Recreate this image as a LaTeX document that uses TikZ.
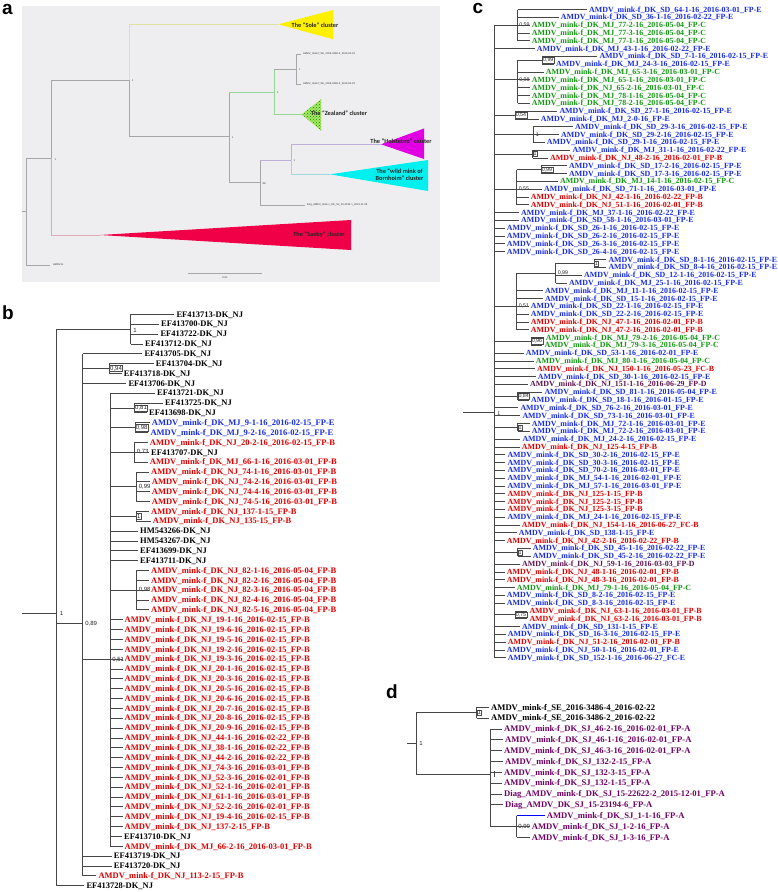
\documentclass[tikz,border=0pt]{standalone}
\usepackage{fontspec}
\setmainfont{Liberation Serif}
\newfontfamily\lsans{Liberation Sans}
\newfontfamily\carl{Carlito}
\usetikzlibrary{patterns}
\definecolor{cb}{RGB}{25,45,225}
\definecolor{cr}{RGB}{225,0,0}
\definecolor{cg}{RGB}{20,150,20}
\definecolor{cp}{RGB}{110,0,100}
\definecolor{cd}{RGB}{95,20,80}
\definecolor{bga}{RGB}{238,238,240}
\definecolor{saeby}{RGB}{240,0,70}
\definecolor{sole}{RGB}{255,240,0}
\definecolor{zeal}{RGB}{170,232,100}
\definecolor{holst}{RGB}{225,0,225}
\definecolor{wild}{RGB}{0,240,240}
\definecolor{lnpink}{RGB}{225,170,185}
\definecolor{lnyel}{RGB}{225,225,160}
\definecolor{lngrn}{RGB}{150,215,150}
\definecolor{lnlav}{RGB}{190,175,220}
\definecolor{lncy}{RGB}{160,215,220}
\newcommand\byy[1]{(314.3+(#1-1)*9.85)}
\newcommand\cyy[1]{(9.5+(#1-1)*7.81)}
\newcommand\dyy[1]{(707.3+(#1-1)*10.83)}
\newcommand\Lb[5]{\node[lb,text=#4] (b#1) at (#3,{\byy{#1}}) {\detokenize{#5}};
  \draw[br] (#2,{\byy{#1}}) -- ([xshift=-2pt]b#1.west);}
\newcommand\Lc[5]{\node[lc,text=#4] (c#1) at (#3,{\cyy{#1}}) {\detokenize{#5}};
  \draw[br] (#2,{\cyy{#1}}) -- ([xshift=-2pt]c#1.west);}
\newcommand\Ld[5]{\node[ld,text=#4] (d#1) at (#3,{\dyy{#1}}) {\detokenize{#5}};
  \draw[br] (#2,{\dyy{#1}}) -- ([xshift=-2pt]d#1.west);}
\tikzset{
  br/.style={draw=black!72, line width=0.65pt},
  lb/.style={anchor=west, inner sep=0pt, font=\bfseries\fontsize{8.5}{9}\selectfont, text height=5.6pt, text depth=0pt},
  lc/.style={anchor=west, inner sep=0pt, font=\bfseries\fontsize{7.9}{8}\selectfont, text height=5.2pt, text depth=0pt},
  ld/.style={anchor=west, inner sep=0pt, font=\bfseries\fontsize{8.6}{9}\selectfont, text height=5.7pt, text depth=0pt},
  supb/.style={anchor=west, inner sep=0.7pt, font=\lsans\fontsize{6}{6}\selectfont, text=black!85},
  supc/.style={anchor=west, inner sep=0.6pt, font=\lsans\fontsize{5.3}{6}\selectfont, text=black!85},
  boxb/.style={supb, draw=black!70, line width=0.4pt},
  boxc/.style={supc, draw=black!70, line width=0.4pt},
  ta/.style={draw=gray!70, line width=0.55pt},
  clab/.style={font=\carl\bfseries\fontsize{6.3}{7}\selectfont, text=black!85, inner sep=0pt},
  atiny/.style={font=\lsans\fontsize{2.6}{3}\selectfont, anchor=west, inner sep=0pt, text=black!80},
  plet/.style={font=\lsans\bfseries\fontsize{19}{20}\selectfont, inner sep=0pt},
}
\begin{document}
\begin{tikzpicture}[x=1pt,y=-1pt]
\useasboundingbox (0,0) rectangle (778,892);
\fill[white] (0,0) rectangle (778,892);
%%%%%%%%%%%%%%%% panel a
\node[plet] (la) at (7.5,9.5) {a};
\fill[bga] (21.7,6) rectangle (440,282);
\draw[ta] (22,211) -- (26.7,211);
\draw[ta] (26.7,158.3) -- (26.7,265) -- (50,265);
\node[atiny] (ag) at (53,265) {AMDV-G};
\draw[ta] (26.7,158.3) -- (51.7,158.3);
\draw[ta] (51.7,80) -- (51.7,158.3);
\draw[draw=lnpink, line width=0.55pt] (51.7,158.3) -- (51.7,235) -- (100,235);
\node[atiny] at (54.5,160) {1};
\fill[saeby] (100,235) -- (351,220) -- (351,250) -- cycle;
\node[clab] (asaeby) at (319,235) {The “Saeby” cluster};
\draw[ta] (51.7,80) -- (129,80);
\node[atiny] at (132,81) {1};
\draw[draw=lnyel, line width=0.55pt] (129,80) -- (129,24.3) -- (278.3,24.3);
\fill[sole] (278.3,24.3) -- (333.3,10) -- (333.3,39.3) -- cycle;
\node[clab] (asole) at (315,24.7) {The “Sole” cluster};
\draw[ta] (129,80) -- (129,136.7) -- (229.3,136.7);
\node[atiny] at (232,137.5) {1};
\draw[ta] (229.3,92.3) -- (229.3,182.3);
\draw[draw=lngrn, line width=0.55pt] (229.3,92.3) -- (274.3,92.3);
\draw[draw=lngrn, line width=0.55pt] (274.3,69.3) -- (274.3,114.3) -- (301.7,114.3);
\node[atiny] at (277,93) {1};
\draw[ta] (274.3,69.3) -- (296,69.3);
\draw[ta] (296,54.3) -- (296,84.3);
\node[atiny] at (299,70) {1};
\draw[ta] (296,54.3) -- (301.3,54.3);
\draw[ta] (296,84.3) -- (301.3,84.3);
\node[atiny] (ase4) at (303,54.3) {AMDV\_mink-f\_SE\_2016-3486-4\_2016-02-22};
\node[atiny] (ase2) at (303,84.3) {AMDV\_mink-f\_SE\_2016-3486-2\_2016-02-22};
\fill[zeal] (301.7,114.3) -- (321,99.3) -- (321,130.7) -- cycle;
\fill[pattern=crosshatch dots, pattern color=green!55!black] (301.7,114.3) -- (321,99.3) -- (321,130.7) -- cycle;
\node[clab] (azeal) at (339,112.7) {The “Zealand” cluster};
\draw[ta] (229.3,182.3) -- (260,182.3);
\draw[ta] (260,160) -- (260,205) -- (305,205);
\node[atiny] at (262.5,184) {98};
\node[atiny] (aeng) at (307,205) {Eng\_AMDV\_mink-c\_DK\_SJ\_15-4150-1\_2015-11-28};
\draw[draw=lnlav, line width=0.55pt] (260,160) -- (291,160);
\draw[draw=lnlav, line width=0.55pt] (291,144.3) -- (291,160);
\draw[draw=lncy, line width=0.55pt] (291,160) -- (291,174.3) -- (330,174.3);
\draw[draw=lnlav, line width=0.55pt] (291,144.3) -- (381,144.3);
\node[atiny] at (293.5,161) {1};
\fill[holst] (381,144.3) -- (424,128.5) -- (424,159) -- cycle;
\node[clab] (ahol) at (401,141.5) {The “Holstebro” cluster};
\fill[wild] (330,174.3) -- (428,160) -- (428,191) -- cycle;
\node[clab, align=center] (awild) at (399.5,174.5) {The “wild mink of\\Bornholm” cluster};
\draw[ta] (188,273.3) -- (262,273.3);
\node[atiny, anchor=center] at (225,277.5) {0.01};
%%%%%%%%%%%%%%%% panel b
\node[plet] (lbb) at (8,313) {b};
\draw[br] (21.7,613.3) -- (56,613.3);
\draw[br] (56,{\byy{2.5}}) -- (56,{\byy{59}});
\node[supb] at (59,613.3) {1};
\draw[br] (56,{\byy{2.5}}) -- (130.7,{\byy{2.5}});
\draw[br] (130.7,{\byy{1}}) -- (130.7,{\byy{4}});
\node[supb] at (132.5,{\byy{2.6}}) {1};
\draw[br] (56,623.7) -- (82.7,623.7);
\draw[br] (82.7,{\byy{5}}) -- (82.7,{\byy{58}});
\node[supb] at (84.5,623.7) {0,89};
\draw[br] (82.7,{\byy{6.5}}) -- (109.3,{\byy{6.5}});
\draw[br] (109.3,{\byy{6}}) -- (109.3,{\byy{7}});
\node[boxb] at (109.3,{\byy{6.5}}) {0,94};
\draw[br] (82.7,659.3) -- (110,659.3);
\draw[br] (110,{\byy{9}}) -- (110,{\byy{55}});
\node[supb] at (111.5,659.3) {0,51};
\draw[br] (110,{\byy{10.5}}) -- (134.3,{\byy{10.5}});
\draw[br] (134.3,{\byy{10}}) -- (134.3,{\byy{11}});
\node[boxb] at (134.3,{\byy{10.5}}) {0,81};
\draw[br] (110,{\byy{12.5}}) -- (135,{\byy{12.5}});
\draw[br] (135,{\byy{12}}) -- (135,{\byy{13}});
\node[boxb] at (135,{\byy{12.5}}) {0,98};
\draw[br] (110,{\byy{15}}) -- (134.3,{\byy{15}});
\draw[br] (134.3,{\byy{14}}) -- (134.3,{\byy{16}});
\node[supb] at (136,{\byy{15}}) {0,73};
\draw[br] (110,{\byy{18.5}}) -- (136.3,{\byy{18.5}});
\draw[br] (136.3,{\byy{17}}) -- (136.3,{\byy{20}});
\node[supb] at (138,{\byy{18.5}}) {0,99};
\draw[br] (110,{\byy{21.5}}) -- (136.3,{\byy{21.5}});
\draw[br] (136.3,{\byy{21}}) -- (136.3,{\byy{22}});
\node[boxb] at (136.3,{\byy{21.5}}) {1};
\draw[br] (110,{\byy{29}}) -- (136.3,{\byy{29}});
\draw[br] (136.3,{\byy{27}}) -- (136.3,{\byy{31}});
\node[supb] at (138,{\byy{29}}) {0,98};
\Lb{1}{130.7}{176.3}{black}{EF413713-DK_NJ}
\Lb{2}{130.7}{161}{black}{EF413700-DK_NJ}
\Lb{3}{130.7}{160.3}{black}{EF413722-DK_NJ}
\Lb{4}{130.7}{145}{black}{EF413712-DK_NJ}
\Lb{5}{82.7}{144.3}{black}{EF413705-DK_NJ}
\Lb{6}{109.3}{155.7}{black}{EF413704-DK_NJ}
\Lb{7}{109.3}{123.7}{black}{EF413718-DK_NJ}
\Lb{8}{82.7}{128.3}{black}{EF413706-DK_NJ}
\Lb{9}{110}{157}{black}{EF413721-DK_NJ}
\Lb{10}{134.3}{165}{black}{EF413725-DK_NJ}
\Lb{11}{134.3}{149}{black}{EF413698-DK_NJ}
\Lb{12}{135}{151.7}{cb}{AMDV_mink-f_DK_MJ_9-1-16_2016-02-15_FP-E}
\Lb{13}{135}{150.3}{cb}{AMDV_mink-f_DK_MJ_9-2-16_2016-02-15_FP-E}
\Lb{14}{134.3}{149.7}{cr}{AMDV_mink-f_DK_NJ_20-2-16_2016-02-15_FP-B}
\Lb{15}{134.3}{151}{black}{EF413707-DK_NJ}
\Lb{16}{134.3}{149.7}{cr}{AMDV_mink-f_DK_MJ_66-1-16_2016-03-01_FP-B}
\Lb{17}{136.3}{151}{cr}{AMDV_mink-f_DK_NJ_74-1-16_2016-03-01_FP-B}
\Lb{18}{136.3}{151.7}{cr}{AMDV_mink-f_DK_NJ_74-2-16_2016-03-01_FP-B}
\Lb{19}{136.3}{151.7}{cr}{AMDV_mink-f_DK_NJ_74-4-16_2016-03-01_FP-B}
\Lb{20}{136.3}{151.7}{cr}{AMDV_mink-f_DK_NJ_74-5-16_2016-03-01_FP-B}
\Lb{21}{136.3}{151}{cr}{AMDV_mink-f_DK_NJ_137-1-15_FP-B}
\Lb{22}{136.3}{152.7}{cr}{AMDV_mink-f_DK_NJ_135-15_FP-B}
\Lb{23}{110}{140}{black}{HM543266-DK_NJ}
\Lb{24}{110}{140}{black}{HM543267-DK_NJ}
\Lb{25}{110}{140}{black}{EF413699-DK_NJ}
\Lb{26}{110}{140}{black}{EF413711-DK_NJ}
\Lb{27}{136.3}{151}{cr}{AMDV_mink-f_DK_NJ_82-1-16_2016-05-04_FP-B}
\Lb{28}{136.3}{151}{cr}{AMDV_mink-f_DK_NJ_82-2-16_2016-05-04_FP-B}
\Lb{29}{136.3}{151}{cr}{AMDV_mink-f_DK_NJ_82-3-16_2016-05-04_FP-B}
\Lb{30}{136.3}{151}{cr}{AMDV_mink-f_DK_NJ_82-4-16_2016-05-04_FP-B}
\Lb{31}{136.3}{151}{cr}{AMDV_mink-f_DK_NJ_82-5-16_2016-05-04_FP-B}
\Lb{32}{110}{124.5}{cr}{AMDV_mink-f_DK_NJ_19-1-16_2016-02-15_FP-B}
\Lb{33}{110}{124.5}{cr}{AMDV_mink-f_DK_NJ_19-6-16_2016-02-15_FP-B}
\Lb{34}{110}{124.5}{cr}{AMDV_mink-f_DK_NJ_19-5-16_2016-02-15_FP-B}
\Lb{35}{110}{124.5}{cr}{AMDV_mink-f_DK_NJ_19-2-16_2016-02-15_FP-B}
\Lb{36}{110}{124.5}{cr}{AMDV_mink-f_DK_NJ_19-3-16_2016-02-15_FP-B}
\Lb{37}{110}{124.5}{cr}{AMDV_mink-f_DK_NJ_20-1-16_2016-02-15_FP-B}
\Lb{38}{110}{124.5}{cr}{AMDV_mink-f_DK_NJ_20-3-16_2016-02-15_FP-B}
\Lb{39}{110}{124.5}{cr}{AMDV_mink-f_DK_NJ_20-5-16_2016-02-15_FP-B}
\Lb{40}{110}{124.5}{cr}{AMDV_mink-f_DK_NJ_20-6-16_2016-02-15_FP-B}
\Lb{41}{110}{124.5}{cr}{AMDV_mink-f_DK_NJ_20-7-16_2016-02-15_FP-B}
\Lb{42}{110}{124.5}{cr}{AMDV_mink-f_DK_NJ_20-8-16_2016-02-15_FP-B}
\Lb{43}{110}{124.5}{cr}{AMDV_mink-f_DK_NJ_20-9-16_2016-02-15_FP-B}
\Lb{44}{110}{124.5}{cr}{AMDV_mink-f_DK_NJ_44-1-16_2016-02-22_FP-B}
\Lb{45}{110}{124.5}{cr}{AMDV_mink-f_DK_NJ_38-1-16_2016-02-22_FP-B}
\Lb{46}{110}{124.5}{cr}{AMDV_mink-f_DK_NJ_44-2-16_2016-02-22_FP-B}
\Lb{47}{110}{124.5}{cr}{AMDV_mink-f_DK_NJ_74-3-16_2016-03-01_FP-B}
\Lb{48}{110}{124.5}{cr}{AMDV_mink-f_DK_NJ_52-3-16_2016-02-01_FP-B}
\Lb{49}{110}{124.5}{cr}{AMDV_mink-f_DK_NJ_52-1-16_2016-02-01_FP-B}
\Lb{50}{110}{124.5}{cr}{AMDV_mink-f_DK_NJ_61-1-16_2016-03-01_FP-B}
\Lb{51}{110}{124.5}{cr}{AMDV_mink-f_DK_NJ_52-2-16_2016-02-01_FP-B}
\Lb{52}{110}{124.5}{cr}{AMDV_mink-f_DK_NJ_19-4-16_2016-02-15_FP-B}
\Lb{53}{110}{124.5}{cr}{AMDV_mink-f_DK_NJ_137-2-15_FP-B}
\Lb{54}{110}{124}{black}{EF413710-DK_NJ}
\Lb{55}{110}{124.5}{cr}{AMDV_mink-f_DK_MJ_66-2-16_2016-03-01_FP-B}
\Lb{56}{82.7}{113.7}{black}{EF413719-DK_NJ}
\Lb{57}{82.7}{113.7}{black}{EF413720-DK_NJ}
\Lb{58}{82.7}{98.3}{cr}{AMDV_mink-f_DK_NJ_113-2-15_FP-B}
\Lb{59}{56}{86.3}{black}{EF413728-DK_NJ}
%%%%%%%%%%%%%%%% panel c
\node[plet] (lcc) at (478,8.5) {c};
\draw[br] (463,412.7) -- (494.3,412.7);
\draw[br] (494.3,{\cyy{3}}) -- (494.3,{\cyy{84}});
\node[supc] at (496.5,414) {1};
\draw[br] (494.3,{\cyy{3}}) -- (517.7,{\cyy{3}});
\draw[br] (517.7,{\cyy{1}}) -- (517.7,{\cyy{5}});
\node[supc] at (518.5,{\cyy{3}}) {0,59};
\draw[br] (494.3,{\cyy{10}}) -- (517.7,{\cyy{10}});
\draw[br] (517.7,{\cyy{7.5}}) -- (517.7,{\cyy{13}});
\draw[br] (517.7,{\cyy{7.5}}) -- (542.3,{\cyy{7.5}});
\draw[br] (542.3,{\cyy{7}}) -- (542.3,{\cyy{8}});
\node[boxc] at (542.3,{\cyy{7.5}}) {0,99};
\node[supc] at (518.5,{\cyy{10}}) {0,98};
\draw[br] (494.3,{\cyy{14.5}}) -- (515,{\cyy{14.5}});
\draw[br] (515,{\cyy{14}}) -- (515,{\cyy{15}});
\node[boxc] at (515,{\cyy{14.5}}) {0,54};
\draw[br] (494.3,{\cyy{17}}) -- (533.3,{\cyy{17}});
\draw[br] (533.3,{\cyy{16}}) -- (533.3,{\cyy{18}});
\node[supc] at (535,{\cyy{17}}) {1};
\draw[br] (494.3,{\cyy{19.5}}) -- (532.7,{\cyy{19.5}});
\draw[br] (532.7,{\cyy{19}}) -- (532.7,{\cyy{20}});
\node[boxc] at (532.7,{\cyy{19.5}}) {1};
\draw[br] (494.3,{\cyy{24}}) -- (516.7,{\cyy{24}});
\draw[br] (516.7,{\cyy{21.5}}) -- (516.7,{\cyy{26}});
\draw[br] (516.7,{\cyy{21.5}}) -- (541,{\cyy{21.5}});
\draw[br] (541,{\cyy{21}}) -- (541,{\cyy{22}});
\node[boxc] at (541,{\cyy{21.5}}) {0,99};
\node[supc] at (518,{\cyy{24}}) {0,55};
\draw[br] (494.3,{\cyy{39}}) -- (516.7,{\cyy{39}});
\draw[br] (516.7,{\cyy{34.75}}) -- (516.7,{\cyy{42}});
\draw[br] (516.7,{\cyy{34.75}}) -- (555.7,{\cyy{34.75}});
\draw[br] (555.7,{\cyy{33.5}}) -- (555.7,{\cyy{36}});
\node[supc] at (557,{\cyy{34.75}}) {0,99};
\draw[br] (555.7,{\cyy{33.5}}) -- (594,{\cyy{33.5}});
\draw[br] (594,{\cyy{33}}) -- (594,{\cyy{34}});
\node[boxc] at (594,{\cyy{33.5}}) {1};
\node[supc] at (518,{\cyy{39}}) {0,51};
\draw[br] (494.3,{\cyy{43.5}}) -- (531,{\cyy{43.5}});
\draw[br] (531,{\cyy{43}}) -- (531,{\cyy{44}});
\node[boxc] at (531,{\cyy{43.5}}) {0,96};
\draw[br] (494.3,{\cyy{50.5}}) -- (517.7,{\cyy{50.5}});
\draw[br] (517.7,{\cyy{50}}) -- (517.7,{\cyy{51}});
\node[boxc] at (517.7,{\cyy{50.5}}) {0,84};
\draw[br] (494.3,{\cyy{54.5}}) -- (517.7,{\cyy{54.5}});
\draw[br] (517.7,{\cyy{54}}) -- (517.7,{\cyy{55}});
\node[boxc] at (517.7,{\cyy{54.5}}) {1};
\draw[br] (494.3,{\cyy{70.5}}) -- (517.7,{\cyy{70.5}});
\draw[br] (517.7,{\cyy{70}}) -- (517.7,{\cyy{71}});
\node[boxc] at (517.7,{\cyy{70.5}}) {1};
\draw[br] (494.3,{\cyy{78.5}}) -- (515,{\cyy{78.5}});
\draw[br] (515,{\cyy{78}}) -- (515,{\cyy{79}});
\node[boxc] at (515,{\cyy{78.5}}) {0,75};
\Lc{1}{517.7}{589}{cb}{AMDV_mink-f_DK_SD_64-1-16_2016-03-01_FP-E}
\Lc{2}{517.7}{560.7}{cb}{AMDV_mink-f_DK_SD_36-1-16_2016-02-22_FP-E}
\Lc{3}{517.7}{531.7}{cg}{AMDV_mink-f_DK_MJ_77-2-16_2016-05-04_FP-C}
\Lc{4}{517.7}{531.7}{cg}{AMDV_mink-f_DK_MJ_77-3-16_2016-05-04_FP-C}
\Lc{5}{517.7}{531.7}{cg}{AMDV_mink-f_DK_MJ_77-1-16_2016-05-04_FP-C}
\Lc{6}{494.3}{536.7}{cb}{AMDV_mink-f_DK_MJ_43-1-16_2016-02-22_FP-E}
\Lc{7}{542.3}{599.3}{cb}{AMDV_mink-f_DK_SD_7-1-16_2016-02-15_FP-E}
\Lc{8}{542.3}{556}{cb}{AMDV_mink-f_DK_MJ_24-3-16_2016-02-15_FP-E}
\Lc{9}{517.7}{545.7}{cg}{AMDV_mink-f_DK_MJ_65-3-16_2016-03-01_FP-C}
\Lc{10}{517.7}{531.7}{cg}{AMDV_mink-f_DK_MJ_65-1-16_2016-03-01_FP-C}
\Lc{11}{517.7}{531.7}{cg}{AMDV_mink-f_DK_NJ_65-2-16_2016-03-01_FP-C}
\Lc{12}{517.7}{531.7}{cg}{AMDV_mink-f_DK_MJ_78-1-16_2016-05-04_FP-C}
\Lc{13}{517.7}{531.7}{cg}{AMDV_mink-f_DK_MJ_78-2-16_2016-05-04_FP-C}
\Lc{14}{515}{559.3}{cb}{AMDV_mink-f_DK_SD_27-1-16_2016-02-15_FP-E}
\Lc{15}{515}{540.7}{cb}{AMDV_mink-f_DK_MJ_2-0-16_FP-E}
\Lc{16}{533.3}{575}{cb}{AMDV_mink-f_DK_SD_29-3-16_2016-02-15_FP-E}
\Lc{17}{533.3}{561}{cb}{AMDV_mink-f_DK_SD_29-2-16_2016-02-15_FP-E}
\Lc{18}{533.3}{546.7}{cb}{AMDV_mink-f_DK_SD_29-1-16_2016-02-15_FP-E}
\Lc{19}{532.7}{572.3}{cb}{AMDV_mink-f_DK_MJ_31-1-16_2016-02-22_FP-E}
\Lc{20}{532.7}{550}{cr}{AMDV_mink-f_DK_NJ_48-2-16_2016-02-01_FP-B}
\Lc{21}{541}{569}{cb}{AMDV_mink-f_DK_SD_17-2-16_2016-02-15_FP-E}
\Lc{22}{541}{569}{cb}{AMDV_mink-f_DK_SD_17-3-16_2016-02-15_FP-E}
\Lc{23}{516.7}{560}{cg}{AMDV_mink-f_DK_MJ_14-1-16_2016-02-15_FP-C}
\Lc{24}{516.7}{544}{cb}{AMDV_mink-f_DK_SD_71-1-16_2016-03-01_FP-E}
\Lc{25}{516.7}{530.7}{cr}{AMDV_mink-f_DK_NJ_42-1-16_2016-02-22_FP-B}
\Lc{26}{516.7}{530.7}{cr}{AMDV_mink-f_DK_NJ_51-1-16_2016-02-01_FP-B}
\Lc{27}{494.3}{521}{cb}{AMDV_mink-f_DK_MJ_37-1-16_2016-02-22_FP-E}
\Lc{28}{494.3}{521}{cb}{AMDV_mink-f_DK_SD_58-1-16_2016-03-01_FP-E}
\Lc{29}{494.3}{506.7}{cb}{AMDV_mink-f_DK_SD_26-1-16_2016-02-15_FP-E}
\Lc{30}{494.3}{506.7}{cb}{AMDV_mink-f_DK_SD_26-2-16_2016-02-15_FP-E}
\Lc{31}{494.3}{506.7}{cb}{AMDV_mink-f_DK_SD_26-3-16_2016-02-15_FP-E}
\Lc{32}{494.3}{506.7}{cb}{AMDV_mink-f_DK_SD_26-4-16_2016-02-15_FP-E}
\Lc{33}{594}{608.3}{cb}{AMDV_mink-f_DK_SD_8-1-16_2016-02-15_FP-E}
\Lc{34}{594}{608.3}{cb}{AMDV_mink-f_DK_SD_8-4-16_2016-02-15_FP-E}
\Lc{35}{555.7}{584}{cb}{AMDV_mink-f_DK_SD_12-1-16_2016-02-15_FP-E}
\Lc{36}{555.7}{569}{cb}{AMDV_mink-f_DK_MJ_25-1-16_2016-02-15_FP-E}
\Lc{37}{516.7}{545}{cb}{AMDV_mink-f_DK_MJ_11-1-16_2016-02-15_FP-E}
\Lc{38}{516.7}{545}{cb}{AMDV_mink-f_DK_SD_15-1-16_2016-02-15_FP-E}
\Lc{39}{516.7}{530.7}{cb}{AMDV_mink-f_DK_SD_22-1-16_2016-02-15_FP-E}
\Lc{40}{516.7}{530.7}{cb}{AMDV_mink-f_DK_SD_22-2-16_2016-02-15_FP-E}
\Lc{41}{516.7}{530.7}{cr}{AMDV_mink-f_DK_NJ_47-1-16_2016-02-01_FP-B}
\Lc{42}{516.7}{530.7}{cr}{AMDV_mink-f_DK_NJ_47-2-16_2016-02-01_FP-B}
\Lc{43}{531}{545.7}{cg}{AMDV_mink-f_DK_MJ_79-2-16_2016-05-04_FP-C}
\Lc{44}{531}{544.3}{cg}{AMDV_mink-f_DK_MJ_79-3-16_2016-05-04_FP-C}
\Lc{45}{494.3}{525.7}{cb}{AMDV_mink-f_DK_SD_53-1-16_2016-02-01_FP-E}
\Lc{46}{494.3}{535.7}{cg}{AMDV_mink-f_DK_MJ_80-1-16_2016-05-04_FP-C}
\Lc{47}{494.3}{537}{cr}{AMDV_mink-f_DK_NJ_150-1-16_2016-05-23_FC-B}
\Lc{48}{494.3}{537.7}{cb}{AMDV_mink-f_DK_SD_30-1-16_2016-02-15_FP-E}
\Lc{49}{494.3}{530}{cd}{AMDV_mink-f_DK_NJ_151-1-16_2016-06-29_FP-D}
\Lc{50}{517.7}{544.3}{cb}{AMDV_mink-f_DK_SD_81-1-16_2016-05-04_FP-E}
\Lc{51}{517.7}{531}{cb}{AMDV_mink-f_DK_SD_18-1-16_2016-01-15_FP-E}
\Lc{52}{494.3}{520.3}{cb}{AMDV_mink-f_DK_SD_76-2-16_2016-03-01_FP-E}
\Lc{53}{494.3}{522.3}{cb}{AMDV_mink-f_DK_SD_73-1-16_2016-03-01_FP-E}
\Lc{54}{517.7}{531.7}{cb}{AMDV_mink-f_DK_MJ_72-1-16_2016-03-01_FP-E}
\Lc{55}{517.7}{531.7}{cb}{AMDV_mink-f_DK_MJ_72-2-16_2016-03-01_FP-E}
\Lc{56}{494.3}{522.3}{cb}{AMDV_mink-f_DK_MJ_24-2-16_2016-02-15_FP-E}
\Lc{57}{494.3}{521.7}{cr}{AMDV_mink-f_DK_NJ_125-4-15_FP-B}
\Lc{58}{494.3}{507.3}{cb}{AMDV_mink-f_DK_SD_30-2-16_2016-02-15_FP-E}
\Lc{59}{494.3}{507.3}{cb}{AMDV_mink-f_DK_SD_30-3-16_2016-02-15_FP-E}
\Lc{60}{494.3}{507.3}{cb}{AMDV_mink-f_DK_SD_70-2-16_2016-03-01_FP-E}
\Lc{61}{494.3}{507.3}{cb}{AMDV_mink-f_DK_MJ_54-1-16_2016-02-01_FP-E}
\Lc{62}{494.3}{507.3}{cb}{AMDV_mink-f_DK_MJ_57-1-16_2016-03-01_FP-E}
\Lc{63}{494.3}{507.3}{cr}{AMDV_mink-f_DK_NJ_125-1-15_FP-B}
\Lc{64}{494.3}{507.3}{cr}{AMDV_mink-f_DK_NJ_125-2-15_FP-B}
\Lc{65}{494.3}{507.3}{cr}{AMDV_mink-f_DK_NJ_125-3-15_FP-B}
\Lc{66}{494.3}{507.3}{cb}{AMDV_mink-f_DK_MJ_24-1-16_2016-02-15_FP-E}
\Lc{67}{494.3}{521.7}{cr}{AMDV_mink-f_DK_NJ_154-1-16_2016-06-27_FC-B}
\Lc{68}{494.3}{518.7}{cb}{AMDV_mink-f_DK_SD_138-1-15_FP-E}
\Lc{69}{494.3}{506.7}{cr}{AMDV_mink-f_DK_NJ_42-2-16_2016-02-22_FP-B}
\Lc{70}{517.7}{532.7}{cb}{AMDV_mink-f_DK_SD_45-1-16_2016-02-22_FP-E}
\Lc{71}{517.7}{532.7}{cb}{AMDV_mink-f_DK_SD_45-2-16_2016-02-22_FP-E}
\Lc{72}{494.3}{522}{cd}{AMDV_mink-f_DK_NJ_59-1-16_2016-03-03_FP-D}
\Lc{73}{494.3}{506.7}{cr}{AMDV_mink-f_DK_NJ_48-1-16_2016-02-01_FP-B}
\Lc{74}{494.3}{506.7}{cr}{AMDV_mink-f_DK_NJ_48-3-16_2016-02-01_FP-B}
\Lc{75}{494.3}{516.7}{cg}{AMDV_mink-f_DK_MJ_79-1-16_2016-05-04_FP-C}
\Lc{76}{494.3}{506.7}{cb}{AMDV_mink-f_DK_SD_8-2-16_2016-02-15_FP-E}
\Lc{77}{494.3}{506.7}{cb}{AMDV_mink-f_DK_SD_8-3-16_2016-02-15_FP-E}
\Lc{78}{515}{529.3}{cr}{AMDV_mink-f_DK_NJ_63-1-16_2016-03-01_FP-B}
\Lc{79}{515}{529.3}{cr}{AMDV_mink-f_DK_NJ_63-2-16_2016-03-01_FP-B}
\Lc{80}{494.3}{522}{cb}{AMDV_mink-f_DK_SD_131-1-15_FP-E}
\Lc{81}{494.3}{507.7}{cb}{AMDV_mink-f_DK_SD_16-3-16_2016-02-15_FP-E}
\Lc{82}{494.3}{507.7}{cr}{AMDV_mink-f_DK_NJ_51-2-16_2016-02-01_FP-B}
\Lc{83}{494.3}{506.7}{cb}{AMDV_mink-f_DK_NJ_50-1-16_2016-02-01_FP-E}
\Lc{84}{494.3}{507.7}{cb}{AMDV_mink-f_DK_SD_152-1-16_2016-06-27_FC-E}
%%%%%%%%%%%%%%%% panel d
\node[plet] (ldd) at (392,692) {d};
\draw[br] (407.3,743.3) -- (416,743.3);
\node[supb] at (418.5,743.3) {1};
\draw[br] (416,{\dyy{1.5}}) -- (416,774);
\draw[br] (416,{\dyy{1.5}}) -- (476.7,{\dyy{1.5}});
\draw[br] (476.7,{\dyy{1}}) -- (476.7,{\dyy{2}});
\node[boxb] at (476.7,{\dyy{1.5}}) {1};
\draw[br] (416,774) -- (490,774);
\draw[br] (490,{\dyy{3}}) -- (490,{\dyy{12}});
\draw[br] (494.3,771) -- (494.3,777);
\draw[br] (490,{\dyy{12}}) -- (516.7,{\dyy{12}});
\draw[br] (516.7,{\dyy{11}}) -- (516.7,{\dyy{13}});
\node[supb] at (517.5,{\dyy{12}}) {0,99};
\Ld{1}{476.7}{491}{black}{AMDV_mink-f_SE_2016-3486-4_2016-02-22}
\Ld{2}{476.7}{491}{black}{AMDV_mink-f_SE_2016-3486-2_2016-02-22}
\Ld{3}{490}{504}{cp}{AMDV_mink-f_DK_SJ_46-2-16_2016-02-01_FP-A}
\Ld{4}{490}{505}{cp}{AMDV_mink-f_DK_SJ_46-1-16_2016-02-01_FP-A}
\Ld{5}{490}{504}{cp}{AMDV_mink-f_DK_SJ_46-3-16_2016-02-01_FP-A}
\Ld{6}{490}{505}{cp}{AMDV_mink-f_DK_SJ_132-2-15_FP-A}
\Ld{7}{490}{504}{cp}{AMDV_mink-f_DK_SJ_132-3-15_FP-A}
\Ld{8}{490}{504}{cp}{AMDV_mink-f_DK_SJ_132-1-15_FP-A}
\Ld{9}{490}{504}{cp}{Diag_AMDV_mink-f_DK_SJ_15-22622-2_2015-12-01_FP-A}
\Ld{10}{490}{505}{cp}{Diag_AMDV_DK_SJ_15-23194-6_FP-A}
\node[ld,text=cp] (d11) at (546.7,{\dyy{11}}) {\detokenize{AMDV_mink-f_DK_SJ_1-1-16_FP-A}};
\draw[draw=blue, line width=0.65pt] (516.7,{\dyy{11}}) -- ([xshift=-2pt]d11.west);
\Ld{12}{516.7}{531.7}{cp}{AMDV_mink-f_DK_SJ_1-2-16_FP-A}
\Ld{13}{516.7}{531.7}{cp}{AMDV_mink-f_DK_SJ_1-3-16_FP-A}
\end{tikzpicture}
\end{document}
